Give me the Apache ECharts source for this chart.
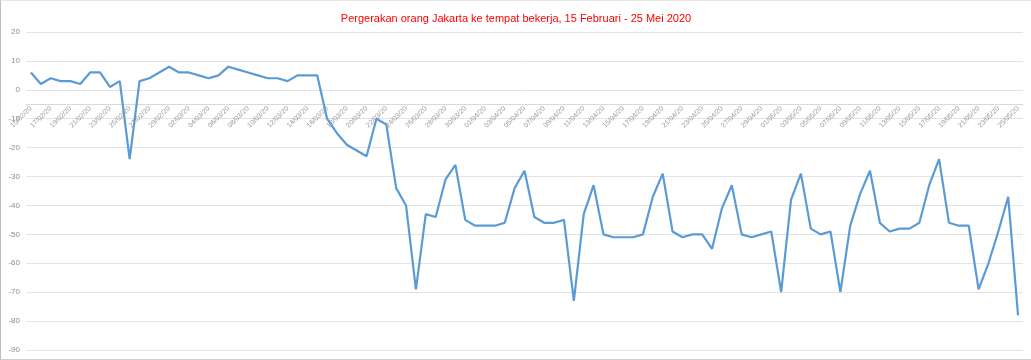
<!DOCTYPE html>
<html>
<head>
<meta charset="utf-8">
<script src="https://cdn.jsdelivr.net/npm/echarts@6/dist/echarts.min.js"></script>
<style>
html,body{margin:0;padding:0;background:#fff;}
#chart{width:1030px;height:358px;border-left:1px solid #bdbdbd;border-top:1px solid #e6e6e6;border-bottom:1px solid #d0d0d0;}
</style>
</head>
<body>
<div id="chart"></div>
<script>
const titleText = 'Pergerakan orang Jakarta ke tempat bekerja, 15 Februari - 25 Mei 2020';
const categories = [
 '15/02/20','16/02/20','17/02/20','18/02/20','19/02/20','20/02/20','21/02/20','22/02/20','23/02/20','24/02/20',
 '25/02/20','26/02/20','27/02/20','28/02/20','29/02/20','01/03/20','02/03/20','03/03/20','04/03/20','05/03/20',
 '06/03/20','07/03/20','08/03/20','09/03/20','10/03/20','11/03/20','12/03/20','13/03/20','14/03/20','15/03/20',
 '16/03/20','17/03/20','18/03/20','19/03/20','20/03/20','21/03/20','22/03/20','23/03/20','24/03/20','25/03/20',
 '26/03/20','27/03/20','28/03/20','29/03/20','30/03/20','31/03/20','01/04/20','02/04/20','03/04/20','04/04/20',
 '05/04/20','06/04/20','07/04/20','08/04/20','09/04/20','10/04/20','11/04/20','12/04/20','13/04/20','14/04/20',
 '15/04/20','16/04/20','17/04/20','18/04/20','19/04/20','20/04/20','21/04/20','22/04/20','23/04/20','24/04/20',
 '25/04/20','26/04/20','27/04/20','28/04/20','29/04/20','30/04/20','01/05/20','02/05/20','03/05/20','04/05/20',
 '05/05/20','06/05/20','07/05/20','08/05/20','09/05/20','10/05/20','11/05/20','12/05/20','13/05/20','14/05/20',
 '15/05/20','16/05/20','17/05/20','18/05/20','19/05/20','20/05/20','21/05/20','22/05/20','23/05/20','24/05/20',
 '25/05/20'
];
const workplaceChange = [
 6,2,4,3,3,2,6,6,1,3,
 -24,3,4,6,8,6,6,5,4,5,
 8,7,6,5,4,4,3,5,5,5,
 -10,-15,-19,-21,-23,-10,-12,-34,-40,-69,
 -43,-44,-31,-26,-45,-47,-47,-47,-46,-34,
 -28,-44,-46,-46,-45,-73,-43,-33,-50,-51,
 -51,-51,-50,-37,-29,-49,-51,-50,-50,-55,
 -41,-33,-50,-51,-50,-49,-70,-38,-29,-48,
 -50,-49,-70,-47,-36,-28,-46,-49,-48,-48,
 -46,-33,-24,-46,-47,-47,-69,-60,-49,-37,
 -78
];
const yMin = -90, yMax = 20, yStep = 10;

const chart = echarts.init(document.getElementById('chart'), null, {renderer:'canvas'});
chart.setOption({
  animation:false,
  title:{
    text:titleText, left:'center', top:7,
    textStyle:{color:'#ff0000', fontSize:11, fontWeight:'normal', fontFamily:'"Liberation Sans", sans-serif'}
  },
  grid:{left:25, right:8, top:31, bottom:9, containLabel:false},
  xAxis:{
    type:'category', data:categories, boundaryGap:true, position:'bottom', offset:0,
    axisLine:{onZero:false, lineStyle:{color:'#d9d9d9', width:1}},
    axisTick:{show:false},
    axisLabel:{interval:1, rotate:45, fontSize:7, color:'#9a9a9a', margin:3, fontFamily:'"Liberation Sans", sans-serif'},
    splitLine:{show:false}
  },
  yAxis:{
    type:'value', min:yMin, max:yMax, interval:yStep,
    axisLine:{show:false}, axisTick:{show:false},
    axisLabel:{fontSize:8, color:'#8c8c8c', margin:6, fontFamily:'"Liberation Sans", sans-serif'},
    splitLine:{lineStyle:{color:'#e3e3e3', width:1}}
  },
  series:[{
    type:'line', data:workplaceChange, showSymbol:false, symbol:'none',
    lineStyle:{color:'#5b9bd5', width:2.2}, itemStyle:{color:'#5b9bd5'}
  }]
});
// place the category axis on the zero line using the value axis scale
const zeroY = chart.convertToPixel({yAxisIndex:0}, 0);
const bottomY = chart.convertToPixel({yAxisIndex:0}, yMin);
chart.setOption({xAxis:{offset:-(bottomY - zeroY)}});
</script>
</body>
</html>
